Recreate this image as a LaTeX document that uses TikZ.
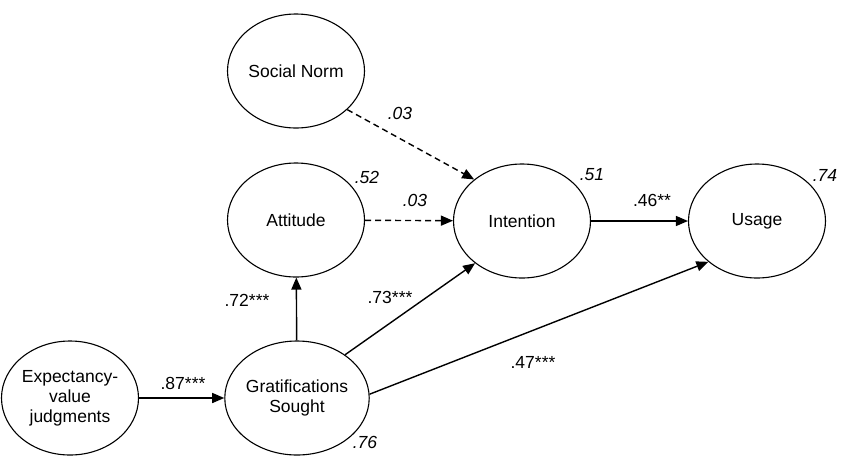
\documentclass[tikz,border=0pt]{standalone}
\usepackage{fontspec}
\setmainfont{Liberation Sans}
\usetikzlibrary{arrows.meta,shapes.geometric}
\tikzset{var/.style={draw=black,ellipse,line width=1.1pt,minimum width=137pt,minimum height=114pt,inner sep=0pt,align=center,font=\fontsize{17.5}{20}\selectfont},arrow/.style={-{Triangle[length=12pt,width=10pt]},line width=1.4pt},darrow/.style={arrow,dash pattern=on 6pt off 4pt},coef/.style={font=\fontsize{17.5}{20}\selectfont,inner sep=1pt},rsq/.style={coef,font=\fontsize{17.5}{20}\selectfont\itshape}}

\begin{document}
\begin{tikzpicture}[x=1pt,y=-1pt]
\useasboundingbox (0,0) rectangle (842,464);
\node[var] (sn) at (296,71) {Social Norm};
\node[var] (att) at (296,220) {Attitude};
\node[var] (int) at (522,221) {Intention};
\node[var] (use) at (757,221) {Usage};
\node[var] (ev) at (70,398) {Expectancy-\\value\\judgments};
\node[var] (gs) at (297,398) {Gratifications\\Sought};
\draw[darrow](sn.-37)--(int.139);
\draw[darrow](att)--(int);
\draw[arrow](int)--(use);
\draw[arrow](ev)--(gs);
\draw[arrow](gs)--(att);
\draw[arrow](gs.42)--(int.222);
\draw[arrow](gs.3)--(use.220);
\node[rsq] (l1) at (400,113) {.03};
\node[rsq] (l2) at (415,200) {.03};
\node[coef] (l3) at (652,200) {.46**};
\node[coef] (l4) at (183,383) {.87***};
\node[coef] (l5) at (247,300) {.72***};
\node[coef] (l6) at (390,297) {.73***};
\node[coef] (l7) at (533,362) {.47***};
\node[rsq] (r1) at (367,177) {.52};
\node[rsq] (r2) at (592,175) {.51};
\node[rsq] (r3) at (825,175) {.74};
\node[rsq] (r4) at (365,442) {.76};
\end{tikzpicture}
\end{document}
